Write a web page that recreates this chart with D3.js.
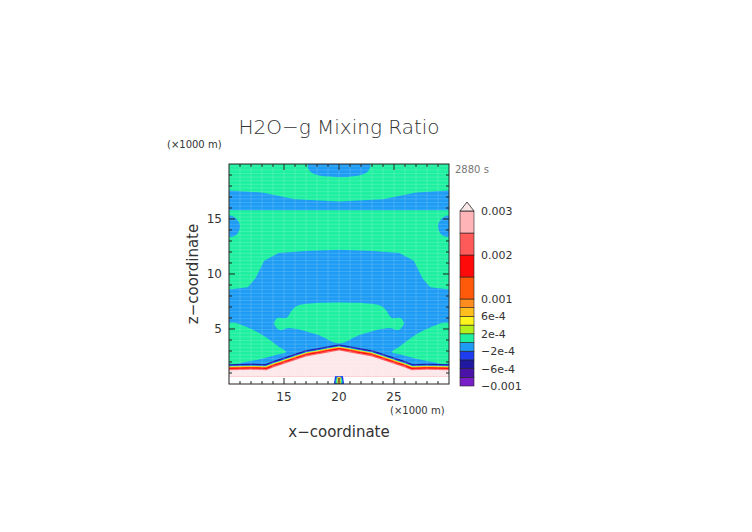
<!DOCTYPE html>
<html><head><meta charset="utf-8">
<script src="https://cdn.jsdelivr.net/npm/d3@7"></script>
<style>body{margin:0;background:#fff}text{font-family:"DejaVu Sans",sans-serif;fill:#333}</style>
</head><body>
<svg id="chart" width="752" height="532"></svg>
<script>
// colour levels of the legend, bottom to top
const levels = [-0.001, -8e-4, -6e-4, -4e-4, -2e-4, 0, 2e-4, 4e-4, 6e-4, 8e-4, 0.001, 0.0015, 0.002, 0.0025, 0.003];
const levelColors = ["#7a1fc8", "#4a12a8", "#2018a0", "#1e3cf0", "#1e9cf5", "#1ef0a0", "#b4f01e", "#fff51e", "#ffbe1e", "#ff8c1e", "#ff5a0a", "#ff0a0a", "#ff5a5a", "#ffb4b8"];
const tickLabels = [[0.003, "0.003"], [0.002, "0.002"], [0.001, "0.001"], [6e-4, "6e-4"], [2e-4, "2e-4"], [-2e-4, "\u22122e-4"], [-6e-4, "\u22126e-4"], [-0.001, "\u22120.001"]];
const xTicks = [15, 20, 25];
const zTicks = [5, 10, 15];

// contour regions, [x km, z km]
const greenTop = [[10,20],[30,20],[30,17.6],[27,17.4],[24,16.8],[20,16.6],[16,16.8],[13,17.4],[10,17.6]];
const blueTopBlob = [[17.2,20],[22.8,20],[22.6,19.3],[21.5,18.9],[20,18.8],[18.5,18.9],[17.4,19.3]];
const greenMid = [[10,15.8],[30,15.8],[30,8.6],[28.3,8.8],[27.6,9.6],[26.8,11.2],[25.5,11.9],[23,12.1],[20,12.2],[17,12.1],[14.5,11.9],[13.2,11.2],[12.4,9.6],[11.7,8.8],[10,8.6]];
const blueSideL = [[10,15.3],[10.6,15.1],[11,14.4],[10.7,13.6],[10,13.4]];
const blueSideR = [[30,15.3],[29.4,15.1],[29,14.4],[29.3,13.6],[30,13.4]];
const greenLowL = [[10,5.5],[11.8,5.1],[13.3,4.3],[14.5,3.4],[15.2,2.9],[14.5,2.7],[13,2.3],[11.5,2.0],[10,1.9]];
const greenLowR = [[30,5.5],[28.2,5.1],[26.7,4.3],[25.5,3.4],[24.8,2.9],[25.5,2.7],[27,2.3],[28.5,2.0],[30,1.9]];
const greenCenter = [[14.1,5.5],[14.4,6.0],[15.2,6.0],[15.8,6.8],[16.5,7.2],[23.5,7.2],[24.2,6.8],[24.8,6.0],[25.6,6.0],[25.9,5.5],[25.4,4.9],[24.6,5.1],[22,4.5],[20,3.7],[18,4.5],[15.4,5.1],[14.6,4.9]];
const mound = [[10,0.65],[10,1.25],[12,1.3],[13.4,1.25],[14,1.5],[17,2.5],[20,3.05],[23,2.5],[26,1.5],[26.6,1.25],[28,1.3],[30,1.25],[30,0.65]];
const column = [[19.6,0],[20.4,0],[20.3,0.65],[19.7,0.65]];

const svg = d3.select("#chart");
const x = d3.scaleLinear().domain([10, 30]).range([229, 449]);
const z = d3.scaleLinear().domain([0, 20]).range([384, 164]);
const line = d3.line().x(d => x(d[0])).y(d => z(d[1])).curve(d3.curveCatmullRomClosed.alpha(0.5));
const poly = d3.line().x(d => x(d[0])).y(d => z(d[1]));
const col = v => levelColors[levels.indexOf(v)];

svg.append("clipPath").attr("id", "plotClip").append("rect")
    .attr("x", x(10)).attr("y", z(20)).attr("width", x(30) - x(10)).attr("height", z(0) - z(20));
const g = svg.append("g").attr("clip-path", "url(#plotClip)");

g.append("rect").attr("x", x(10)).attr("y", z(20)).attr("width", x(30) - x(10)).attr("height", z(0) - z(20)).attr("fill", col(-2e-4));
const fillArea = (pts, c, smooth) => g.append("path").attr("d", smooth ? line(pts) : poly(pts) + "Z").attr("fill", c);
fillArea(greenTop, col(0), false);
fillArea(blueTopBlob, col(-2e-4), true);
fillArea(greenMid, col(0), false);
fillArea(blueSideL, col(-2e-4), true);
fillArea(blueSideR, col(-2e-4), true);
fillArea(greenLowL, col(0), true);
fillArea(greenLowR, col(0), true);
fillArea(greenCenter, col(0), true);

// mound with nested bands, drawn as strokes of decreasing width
const moundD = poly(mound) + "Z";
[[col(-6e-4), 12], [col(-4e-4), 10], [col(0), 8.6], [col(4e-4), 7.4], [col(8e-4), 6.4], [col(0.0015), 5], [col(0.002), 2.4]].forEach(([c, w]) => {
    g.append("path").attr("d", moundD).attr("fill", "none").attr("stroke", c).attr("stroke-width", w).attr("stroke-linejoin", "round");
});
g.append("path").attr("d", moundD).attr("fill", "#fce8ea");
g.append("rect").attr("x", x(10)).attr("y", z(0.65)).attr("width", x(30) - x(10)).attr("height", z(0) - z(0.65)).attr("fill", "#fff");
g.append("path").attr("d", poly(column) + "Z").attr("fill", col(0)).attr("stroke", col(-4e-4)).attr("stroke-width", 1.5);
g.append("rect").attr("x", x(19.85)).attr("y", z(0.65)).attr("width", x(20.15) - x(19.85)).attr("height", z(0) - z(0.65)).attr("fill", col(6e-4));

// faint white raster lines
d3.range(0, 20, 0.33).forEach(v => g.append("line").attr("x1", x(10)).attr("x2", x(30)).attr("y1", z(v)).attr("y2", z(v)).attr("stroke", "#fff").attr("stroke-opacity", 0.15));
d3.range(10, 30, 1).forEach(v => g.append("line").attr("x1", x(v)).attr("x2", x(v)).attr("y1", z(0)).attr("y2", z(20)).attr("stroke", "#fff").attr("stroke-opacity", 0.15));

// frame and ticks
svg.append("rect").attr("x", x(10)).attr("y", z(20)).attr("width", x(30) - x(10)).attr("height", z(0) - z(20)).attr("fill", "none").attr("stroke", "#222");
d3.range(11, 30).forEach(v => {
    const len = v % 5 === 0 ? 6 : 3;
    svg.append("line").attr("x1", x(v)).attr("x2", x(v)).attr("y1", z(0)).attr("y2", z(0) - len).attr("stroke", "#222");
    svg.append("line").attr("x1", x(v)).attr("x2", x(v)).attr("y1", z(20)).attr("y2", z(20) + len).attr("stroke", "#222");
});
d3.range(1, 20).forEach(v => {
    const len = v % 5 === 0 ? 6 : 3;
    svg.append("line").attr("x1", x(10)).attr("x2", x(10) + len).attr("y1", z(v)).attr("y2", z(v)).attr("stroke", "#222");
    svg.append("line").attr("x1", x(30)).attr("x2", x(30) - len).attr("y1", z(v)).attr("y2", z(v)).attr("stroke", "#222");
});
xTicks.forEach(v => svg.append("text").attr("x", x(v)).attr("y", 401).attr("text-anchor", "middle").attr("font-size", 12).text(v));
zTicks.forEach(v => svg.append("text").attr("x", 222).attr("y", z(v) + 4).attr("text-anchor", "end").attr("font-size", 12).text(v));

// titles
svg.append("text").attr("x", 339).attr("y", 134).attr("text-anchor", "middle").attr("font-size", 20).attr("font-weight", 300).text("H2O\u2212g Mixing Ratio");
svg.append("text").attr("x", 167).attr("y", 148).attr("font-size", 10).text("(\u00d71000 m)");
svg.append("text").attr("x", 390).attr("y", 414).attr("font-size", 10).text("(\u00d71000 m)");
svg.append("text").attr("x", 455).attr("y", 173).attr("font-size", 10).style("fill", "#777").text("2880 s");
svg.append("text").attr("x", 339).attr("y", 437).attr("text-anchor", "middle").attr("font-size", 15).text("x\u2212coordinate");
svg.append("text").attr("transform", "translate(198,274) rotate(-90)").attr("text-anchor", "middle").attr("font-size", 15).text("z\u2212coordinate");

// colour bar
const cb = d3.scaleLinear().domain([-0.001, 0.001, 0.003]).range([386, 299, 211]);
const cbx = 460, cbw = 14;
levelColors.forEach((c, i) => {
    svg.append("rect").attr("x", cbx).attr("y", cb(levels[i + 1])).attr("width", cbw).attr("height", cb(levels[i]) - cb(levels[i + 1]))
        .attr("fill", c).attr("stroke", "#222").attr("stroke-width", 0.6);
});
svg.append("path").attr("d", `M${cbx},${cb(0.003)}L${cbx + cbw / 2},${cb(0.003) - 9}L${cbx + cbw},${cb(0.003)}Z`)
    .attr("fill", "#f8e6e6").attr("stroke", "#222").attr("stroke-width", 0.8);
tickLabels.forEach(([v, t]) => svg.append("text").attr("x", 481).attr("y", cb(v) + 4).attr("font-size", 11).text(t));
</script>
</body></html>
